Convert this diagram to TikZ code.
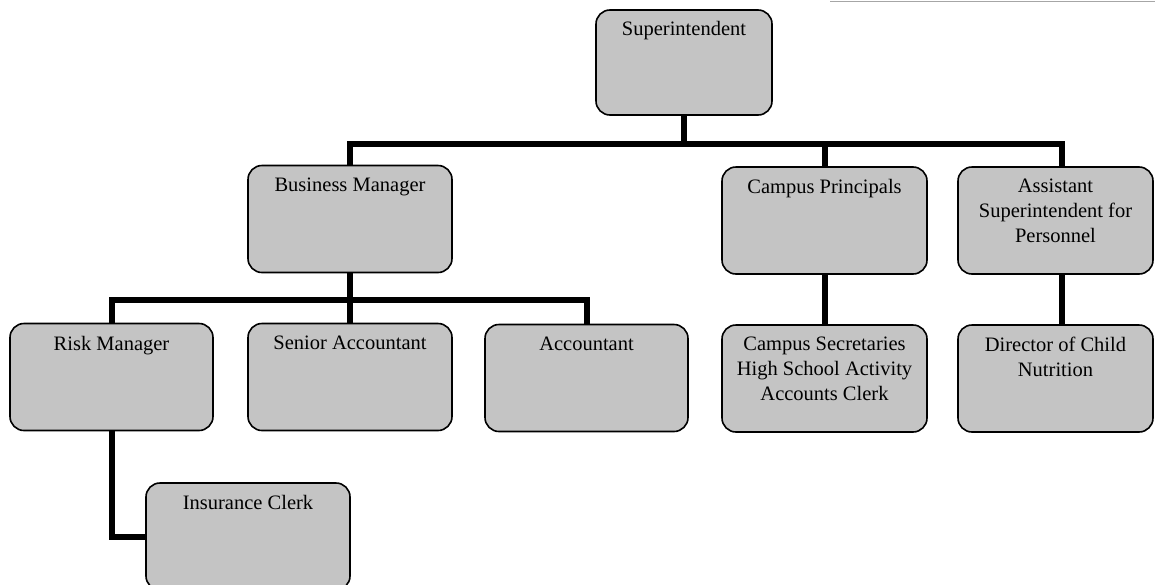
\documentclass[tikz,border=0pt]{standalone}
\usepackage{fontspec}
\setmainfont{Liberation Serif}
\usetikzlibrary{backgrounds}
\definecolor{boxgray}{RGB}{196,196,196}
\begin{document}
\begin{tikzpicture}[x=1pt,y=-1pt,
  box/.style={draw=black, line width=1.6pt, fill=boxgray, rounded corners=14pt,
              minimum width=#1, minimum height=107pt, inner sep=0pt},
  box/.default=204pt,
  lbl/.style={anchor=north, inner sep=0pt, align=center,
              font=\fontsize{20.5}{25}\selectfont},
  conn/.style={line width=6pt, line join=miter, line cap=rect, draw=black}
]
\useasboundingbox (0,0) rectangle (1155,584);
\clip (0,0) rectangle (1155,584);
\draw[gray!70, line width=1pt] (830,1) -- (1155,1);

% top level
\node[box=176pt, minimum height=105pt] (sup) at (684,62.5) {};
% second level
\node[box] (bm) at (350,219) {};
\node[box=205pt] (cp) at (824.5,220.5) {};
\node[box=195pt] (as) at (1055.5,220.5) {};
% third level
\node[box=203pt] (rm) at (111.5,377) {};
\node[box] (sa) at (350,377) {};
\node[box=203pt] (ac) at (586.5,378) {};
\node[box=205pt] (cs) at (824.5,378.5) {};
\node[box=195pt] (dc) at (1055.5,378.5) {};
% fourth level
\node[box] (ic) at (248,536.5) {};

% titles
\node[lbl] (supt) at ([yshift=-12pt]sup.north) {Superintendent};
\node[lbl] (bmt) at ([yshift=-13pt]bm.north) {Business Manager};
\node[lbl] (cpt) at ([yshift=-13pt]cp.north) {Campus Principals};
\node[lbl] (ast) at ([yshift=-13pt]as.north) {Assistant\\Superintendent for\\Personnel};
\node[lbl] (rmt) at ([yshift=-13pt]rm.north) {Risk Manager};
\node[lbl] (sat) at ([yshift=-13pt]sa.north) {Senior Accountant};
\node[lbl] (act) at ([yshift=-13pt]ac.north) {Accountant};
\node[lbl] (cst) at ([yshift=-13pt]cs.north) {Campus Secretaries\\High School Activity\\Accounts Clerk};
\node[lbl] (dct) at ([yshift=-13pt]dc.north) {Director of Child\\Nutrition};
\node[lbl] (ict) at ([yshift=-13pt]ic.north) {Insurance Clerk};

% reporting lines, drawn beneath the boxes
\begin{scope}[on background layer]
\draw[conn] (sup.south) -- ++(0,28) coordinate (j1) -| (bm.north);
\draw[conn] (j1) -| ([xshift=6.5pt]as.north);
\draw[conn] (j1) -| (cp.north);
\draw[conn] (bm.south) -- ++(0,27) coordinate (j2) -| (rm.north);
\draw[conn] (j2) -| (ac.north);
\draw[conn] (bm.south) -- (sa.north);
\draw[conn] (cp.south) -- (cs.north);
\draw[conn] ([xshift=6.5pt]as.south) -- ([xshift=6.5pt]dc.north);
\draw[conn] (rm.south) |- (ic.west);
\end{scope}
\end{tikzpicture}
\end{document}
